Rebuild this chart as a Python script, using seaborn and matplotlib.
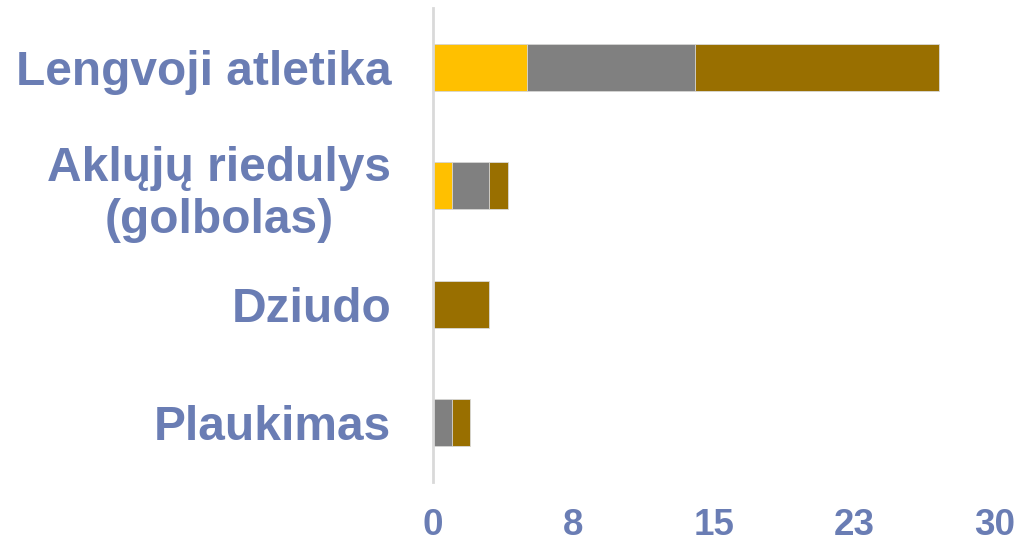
import matplotlib
matplotlib.use("Agg")
import matplotlib.pyplot as plt
import seaborn as sns
import pandas as pd

sports = ["Lengvoji atletika", "Aklųjų riedulys\n(golbolas)", "Dziudo", "Plaukimas"]
gold = [5, 1, 0, 0]
silver = [9, 2, 0, 1]
bronze = [13, 1, 3, 1]

xticks = [0, 7.5, 15, 22.5, 30]
xtick_labels = ["0", "8", "15", "23", "30"]

label_color = "#6A7DB4"

sns.set_style("white")
plt.rcParams["font.family"] = ["Liberation Sans", "DejaVu Sans"]

df = pd.DataFrame({"sport": sports, "gold": gold, "silver": silver, "bronze": bronze})
df["gs"] = df["gold"] + df["silver"]
df["total"] = df["gs"] + df["bronze"]

fig, ax = plt.subplots(figsize=(10.21, 5.42), dpi=100)
fig.subplots_adjust(left=0.424, right=0.9745, top=0.985, bottom=0.111)

# stacked by overdrawing cumulative sums
kw = dict(y="sport", width=0.4, edgecolor="#D9D9D9", linewidth=0.6,
          orient="h", saturation=1, ax=ax)
sns.barplot(data=df, x="total", color="#996F00", **kw)
sns.barplot(data=df, x="gs", color="#808080", **kw)
sns.barplot(data=df, x="gold", color="#FFC000", **kw)

ax.set_xlim(0, 30)
ax.set_ylim(3.5, -0.5)
ax.set_xticks(xticks)
ax.set_xticklabels(xtick_labels)
ax.set_xlabel("")
ax.set_ylabel("")

for s in ["top", "right", "bottom"]:
    ax.spines[s].set_visible(False)
ax.spines["left"].set_color("#D9D9D9")
ax.spines["left"].set_linewidth(2)

ax.tick_params(axis="both", length=0)
ax.tick_params(axis="y", pad=30)
ax.tick_params(axis="x", pad=19)

for t in ax.get_yticklabels():
    t.set_fontsize(34.5)
    t.set_fontweight("bold")
    t.set_color(label_color)
    t.set_multialignment("center")
for t in ax.get_xticklabels():
    t.set_fontsize(26.5)
    t.set_fontweight("bold")
    t.set_color(label_color)

fig.savefig("out.png", dpi=100)
